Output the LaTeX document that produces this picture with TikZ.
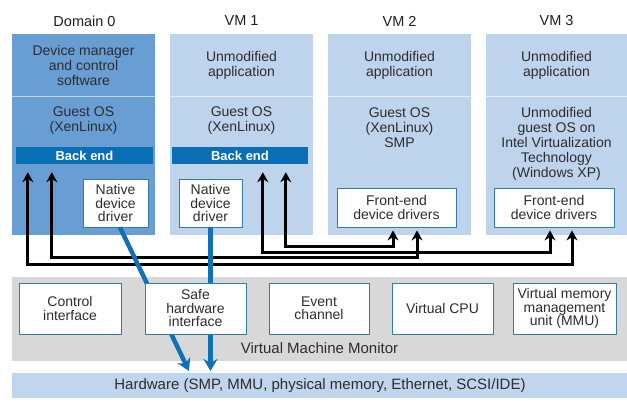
\documentclass[tikz,border=0pt]{standalone}
\usepackage{fontspec}
\setmainfont{Liberation Sans}
\usetikzlibrary{arrows.meta,calc}
\definecolor{domblue}{RGB}{104,158,212}
\definecolor{vmblue}{RGB}{190,211,236}
\definecolor{beblue}{RGB}{10,110,180}
\definecolor{vmmgray}{RGB}{216,216,216}
\definecolor{hwblue}{RGB}{192,213,238}
\definecolor{boxedge}{RGB}{50,125,165}
\definecolor{txt}{RGB}{45,45,45}
\definecolor{conblue}{RGB}{16,114,180}
\begin{document}
\begin{tikzpicture}[x=1pt,y=-1pt,
  col/.style={draw=none, minimum width=143pt, minimum height=201pt, inner sep=0pt, anchor=north west},
  header/.style={font=\fontsize{14.5}{16}\selectfont, text=black!88},
  ctext/.style={font=\fontsize{14}{15}\selectfont, text=txt, align=center, inner sep=0pt},
  wbox/.style={draw=boxedge, line width=0.8pt, fill=white, inner sep=0pt, font=\fontsize{14}{13.5}\selectfont, align=center, text=txt},
  bebar/.style={fill=beblue, text=white, font=\bfseries\fontsize{13}{14}\selectfont, minimum height=17pt, inner sep=0pt},
  band/.style={draw=none, inner sep=0pt, anchor=north west, minimum width=615pt},
  blk/.style={line width=3pt, {Stealth[length=10pt,width=11pt]}-{Stealth[length=10pt,width=11pt]}},
  blu/.style={draw=conblue, line width=4.5pt, -{Stealth[length=12pt,width=14pt]}},
  sep/.style={draw=white, opacity=.6, line width=1pt}
]
\useasboundingbox (0,0) rectangle (627,414);

% columns
\node[col, fill=domblue] (d0) at (12,34) {};
\node[col, fill=vmblue] (v1) at (170,34) {};
\node[col, fill=vmblue] (v2) at (328,34) {};
\node[col, fill=vmblue, minimum width=141pt] (v3) at (486,34) {};
\foreach \c in {d0,v1,v2,v3}{\draw[sep] (\c.west |- 0,97) -- (\c.east |- 0,97);}

% headers
\node[header] (h0) at (84.5,21) {Domain 0};
\node[header] (h1) at (241.5,21) {VM 1};
\node[header] (h2) at (399.5,21) {VM 2};
\node[header] (h3) at (556.5,21) {VM 3};

% column texts
\node[ctext] (t0a) at (83.5,65) {Device manager\\and control\\software};
\node[ctext] (t1a) at (241.5,65) {Unmodified\\application};
\node[ctext] (t2a) at (399.5,65) {Unmodified\\application};
\node[ctext] (t3a) at (556.5,65) {Unmodified\\application};
\node[ctext] (t0b) at (83.5,121) {Guest OS\\(XenLinux)};
\node[ctext] (t1b) at (241.5,121) {Guest OS\\(XenLinux)};
\node[ctext] (t2b) at (399.5,128) {Guest OS\\(XenLinux)\\SMP};
\node[ctext] (t3b) at (556.5,143.5) {Unmodified\\guest OS on\\Intel Virtualization\\Technology\\(Windows XP)};

% back end bars
\node[bebar, minimum width=137pt] (be0) at (84.5,155.5) {Back end};
\node[bebar, minimum width=136pt] (be1) at (240,155.5) {Back end};

% native drivers
\node[wbox, minimum width=65pt, minimum height=48pt] (nd0) at (115.5,203) {Native\\device\\driver};
\node[wbox, minimum width=63pt, minimum height=48pt] (nd1) at (210.5,203) {Native\\device\\driver};

% front-end drivers
\node[wbox, minimum width=119pt, minimum height=39pt] (fe2) at (396.5,207.5) {Front-end\\device drivers};
\node[wbox, minimum width=120pt, minimum height=39pt] (fe3) at (554,207.5) {Front-end\\device drivers};

% VMM and hardware bands
\node[band, fill=vmmgray, minimum height=84pt] (vmm) at (12,277) {};
\node[font=\fontsize{15}{16}\selectfont, text=txt, inner sep=0pt] (vmmt) at (319.5,348) {Virtual Machine Monitor};
\node[band, fill=hwblue, minimum height=25pt] (hw) at (12,373) {};
\node[font=\fontsize{15}{16}\selectfont, text=txt, inner sep=0pt] (hwt) at (320,385.5) {Hardware (SMP, MMU, physical memory, Ethernet, SCSI/IDE)};

% black bidirectional connectors
\coordinate (p0) at ($(be0.south west)+(12,8)$);
\coordinate (p1) at ($(be0.south west)+(36,8)$);
\coordinate (p2) at ($(be1.south west)+(91,8)$);
\coordinate (p3) at ($(be1.south west)+(114,8)$);
\coordinate (q2a) at ($(fe2.south)+(-3.5,3)$);
\coordinate (q2b) at ($(fe2.south)+(20.5,3)$);
\coordinate (q3a) at ($(fe3.south)+(-4,3)$);
\coordinate (q3b) at ($(fe3.south)+(18,3)$);
\draw[blk] (p0) -- (p0 |- 0,265) -| (q3b);
\draw[blk] (p1) -- (p1 |- 0,258) -| (q2b);
\draw[blk] (p2) -- (p2 |- 0,253) -| (q3a);
\draw[blk] (p3) -- (p3 |- 0,247) -| (q2a);

% blue connectors to hardware
\coordinate (hwA) at (189,371);
\draw[blu] ([xshift=4.5pt]nd0.south) -- (hwA);
\draw[blu] (nd1.south) -- ($(nd1.south |- hw.north)+(0,-2)$);

% VMM components
\node[wbox, minimum width=102pt, minimum height=51pt] (ci) at (70,308.5) {Control\\interface};
\node[wbox, minimum width=101pt, minimum height=51pt] (shi) at (195.5,308.5) {Safe\\hardware\\interface};
\node[wbox, minimum width=100pt, minimum height=51pt] (ec) at (319,308.5) {Event\\channel};
\node[wbox, minimum width=101pt, minimum height=51pt] (vcpu) at (442.5,308.5) {Virtual CPU};
\node[wbox, minimum width=103pt, minimum height=51pt] (mmu) at (564.5,308.5) {Virtual memory\\management\\unit (MMU)};
\end{tikzpicture}
\end{document}
